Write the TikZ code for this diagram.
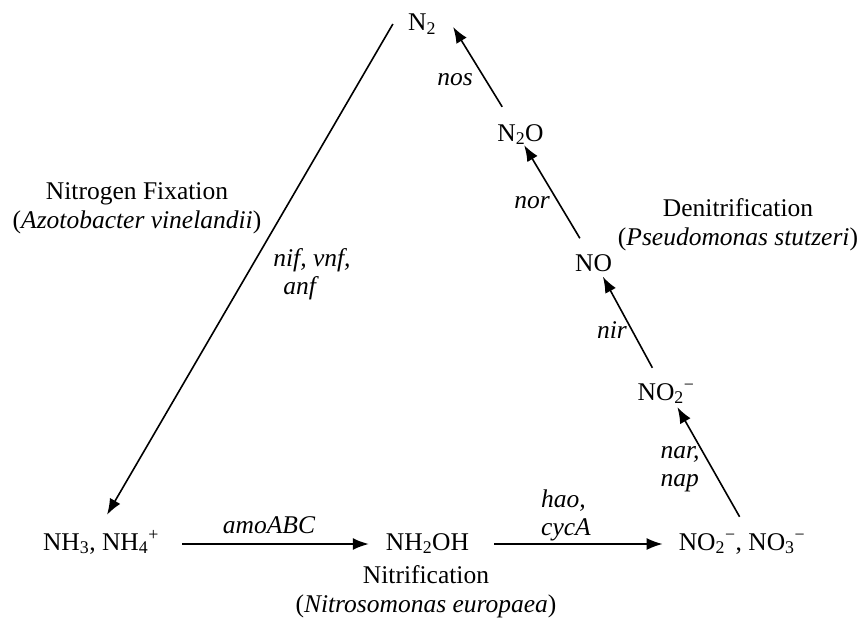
\documentclass[tikz,border=0pt]{standalone}
\usepackage{fontspec}
\setmainfont{Liberation Serif}
\usetikzlibrary{arrows.meta}
\newcommand{\mns}{\textsuperscript{\textminus}}
\begin{document}
\begin{tikzpicture}[x=1pt, y=-1pt,
        species/.style={inner sep=0pt, text height=17pt, text depth=5pt, font=\fontsize{25.5}{29}\selectfont},
        gene/.style={inner sep=0pt, align=left, font=\fontsize{25.5}{28}\selectfont\itshape},
        group/.style={inner sep=0pt, align=center, font=\fontsize{25.5}{29}\selectfont},
        rxn/.style={line width=1.6pt, -{Latex[length=16pt,width=12pt]}}]
        \useasboundingbox (0,0) rectangle (859,618);
        % compounds
        \node[species] (n2)    at (422,25)    {N\textsubscript{2}};
        \node[species] (n2o)   at (520.5,135) {N\textsubscript{2}O};
        \node[species] (no)    at (593.5,265.5) {NO};
        \node[species] (no2)   at (666,394)   {NO\textsubscript{2}\mns};
        \node[species] (nh3)   at (101,544)   {NH\textsubscript{3}, NH\textsubscript{4}\textsuperscript{+}};
        \node[species] (nh2oh) at (427.5,544) {NH\textsubscript{2}OH};
        \node[species] (nox)   at (742,544)   {NO\textsubscript{2}\mns, NO\textsubscript{3}\mns};

        % the three processes
        \node[group] (fix) at (137,208)   {Nitrogen Fixation\\(\textit{Azotobacter vinelandii})};
        \node[group] (den) at (738,225)   {Denitrification\\(\textit{Pseudomonas stutzeri})};
        \node[group] (nit) at (426,592)   {Nitrification\\(\textit{Nitrosomonas europaea})};

        % fixation
        \draw[rxn] ([xshift=-15pt,yshift=1pt]n2.west) -- ([xshift=6pt,yshift=18pt]nh3.north);
        \node[gene] (nif) at (312,274) {nif, vnf,\\\hspace{10pt}anf};

        % nitrification
        \draw[rxn] ([xshift=23pt]nh3.east)  -- ([xshift=-17pt]nh2oh.west);
        \draw[rxn] ([xshift=25pt]nh2oh.east) -- ([xshift=-16pt]nox.west);
        \node[gene] (amo) at (269,525) {amoABC};
        \node[gene] (hao) at (566,515) {hao,\\cycA};

        % denitrification
        \draw[rxn] ([xshift=61pt,yshift=16pt]nox.north west) -- ([xshift=40pt,yshift=-2pt]no2.south west);
        \draw[rxn] ([xshift=15pt,yshift=15pt]no2.north west) -- ([xshift=28pt]no.south west);
        \draw[rxn] ([xshift=5pt,yshift=16pt]no.north west)   -- ([xshift=27pt,yshift=1pt]n2o.south west);
        \draw[rxn] ([xshift=5pt,yshift=17pt]n2o.north west)  -- ([xshift=17pt,yshift=-2pt]n2.east);
        \node[gene] (nar) at (680,469) {nar,\\nap};
        \node[gene] (nir) at (612,330) {nir};
        \node[gene] (nor) at (532,203) {nor};
        \node[gene] (nos) at (455,80)  {nos};
    \end{tikzpicture}
\end{document}
